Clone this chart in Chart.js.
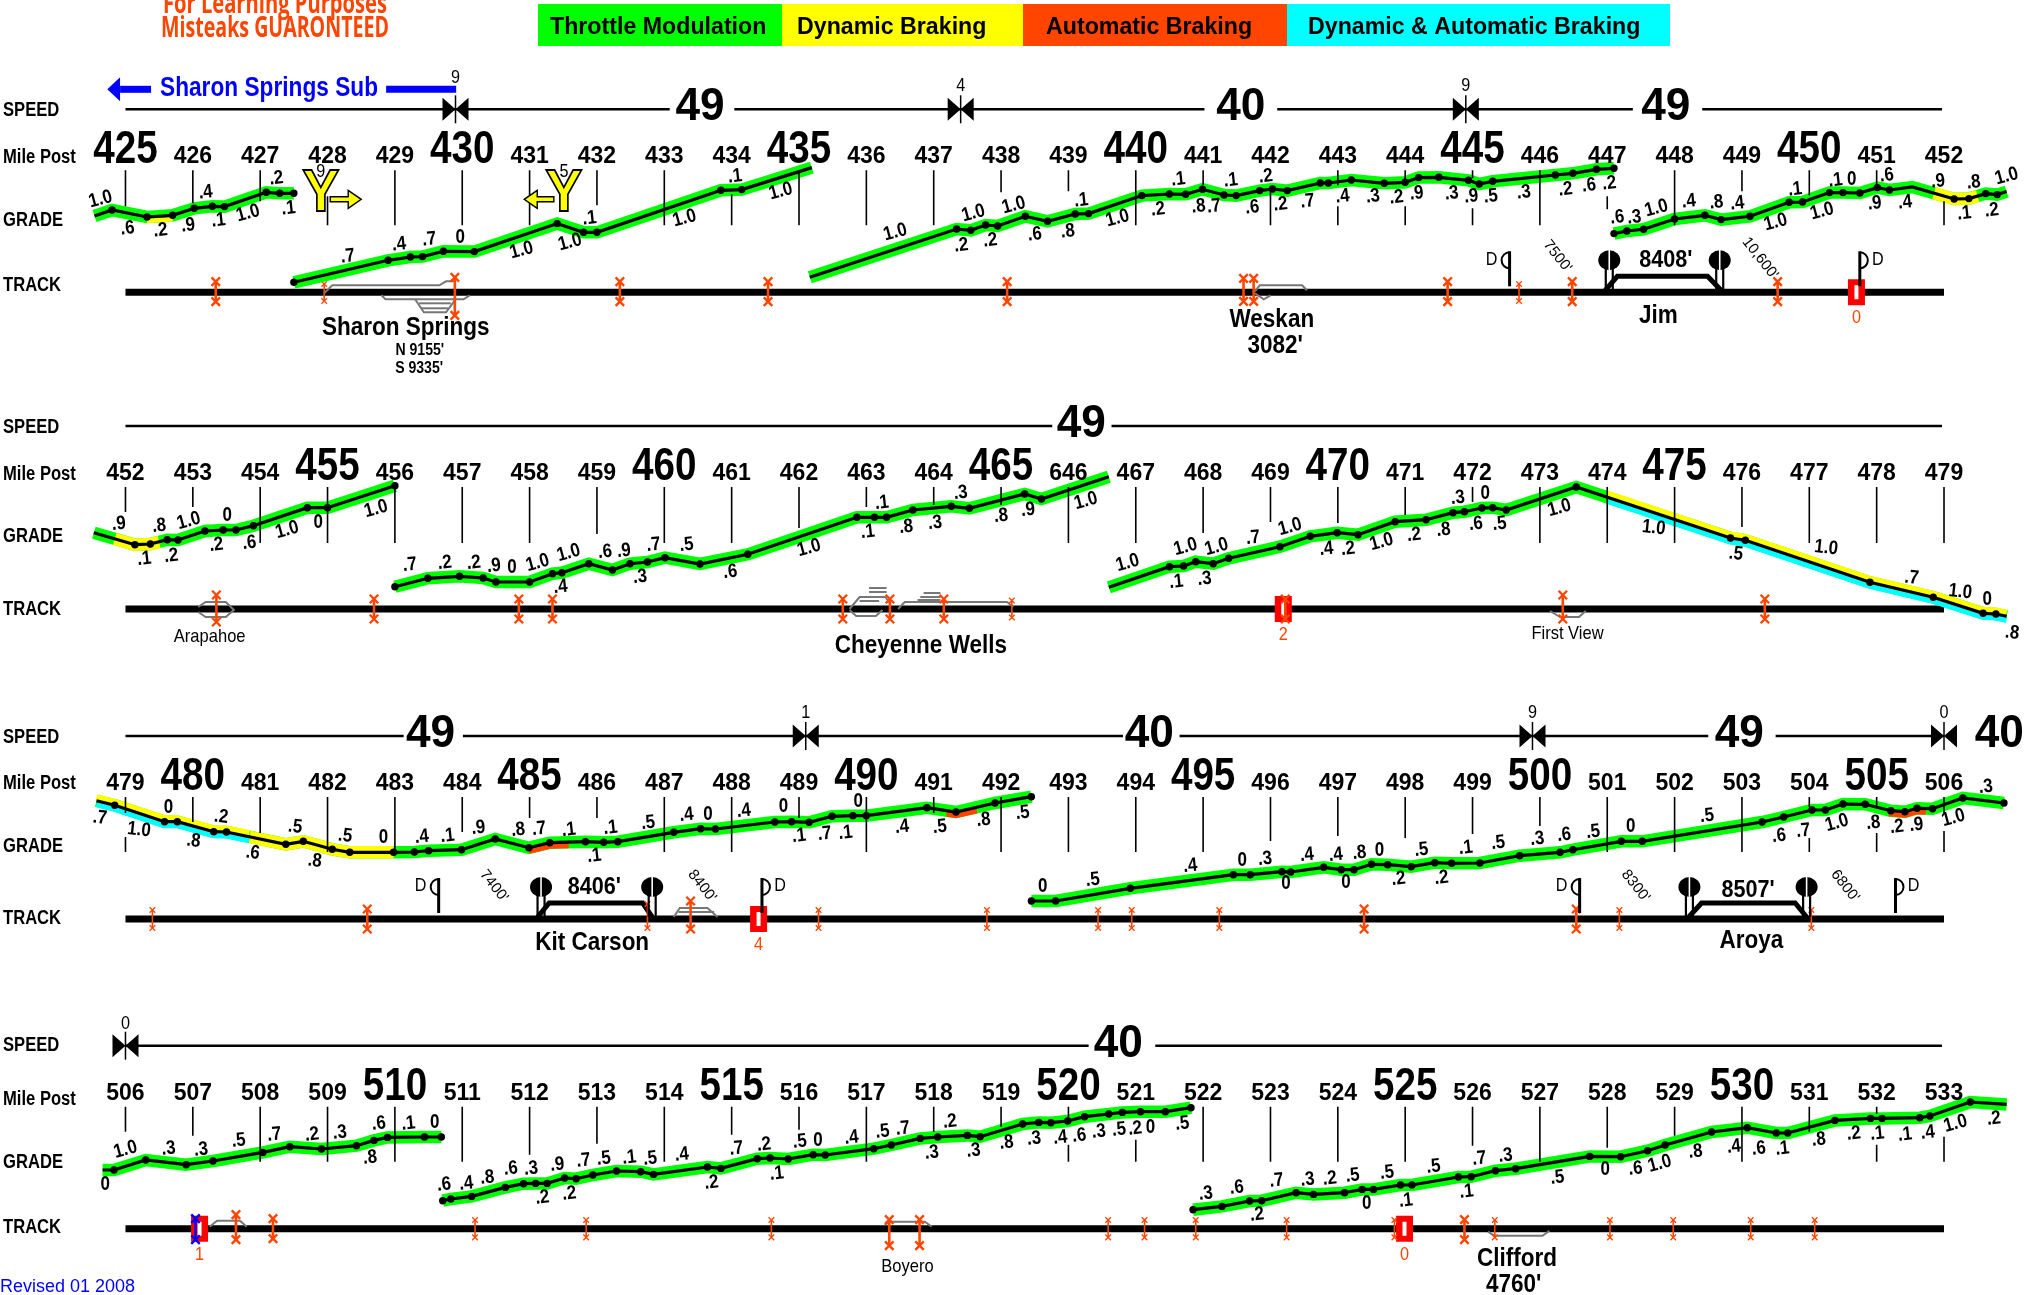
<!DOCTYPE html>
<html><head><meta charset="utf-8">
<style>html,body{margin:0;padding:0;background:#fff}canvas{display:block}</style>
<script src="https://cdn.jsdelivr.net/npm/chart.js@4"></script></head>
<body><canvas id="c" width="2028" height="1295"></canvas>
<script>
// ---- DATA: x = mile post, y = profile height above the track line ----
const legendNames=["Throttle Modulation","Dynamic Braking","Automatic Braking","Dynamic & Automatic Braking"];
const legendColors=["#00ff00","#ffff00","#ff4500","#00ffff"];
const rowStartMile=[425,452,479,506];
const trackY=[292.3,609,919,1228.7];

const mileLabels0=["425","426","427","428","429","430","431","432","433","434","435","436","437","438","439","440","441","442","443","444","445","446","447","448","449","450","451","452"];
const mileLabels1=["452","453","454","455","456","457","458","459","460","461","462","463","464","465","646","467","468","469","470","471","472","473","474","475","476","477","478","479"];
const mileLabels2=["479","480","481","482","483","484","485","486","487","488","489","490","491","492","493","494","495","496","497","498","499","500","501","502","503","504","505","506"];
const mileLabels3=["506","507","508","509","510","511","512","513","514","515","516","517","518","519","520","521","522","523","524","525","526","527","528","529","530","531","532","533"];

const seg1aM=[424.54,424.80,425.32,425.70,426.02,426.29,426.47,427.09,427.29,427.50];
const seg1aH=[76.3,82.3,75.3,77,84,86,85.7,100,99,99];
const seg1bM=[427.50,428.90,429.23,429.41,429.72,430.18,431.41,431.80,432.00,433.84,434.15,435.19];
const seg1bH=[10,32,35.3,35.7,41,40.7,68.7,60,60,102,102.7,124.7];
const seg1cM=[435.16,437.34,437.55,437.77,437.95,438.36,438.69,439.10,439.30,440.09,440.50,440.74,440.99,441.31,441.49,441.84,442.03,442.25,442.74,442.86,443.20,443.69,444.00,444.20,444.50,444.94,445.10,445.30,446.23,446.49,446.84,447.10];
const seg1cH=[15,63.3,62,67.3,66.3,76,71,78.3,78.7,96.7,98.3,98,103,97.3,96.7,101.7,103.3,101.7,109.3,109.3,112.3,109,110,114.7,115,112,108.3,111,117.3,119,123,124];
const seg1dM=[447.10,447.29,447.54,448.00,448.45,448.69,449.12,449.70,449.90,450.30,450.50,450.75,451.01,451.19,451.53,452.15,452.37,452.62,452.79,452.93];
const seg1dH=[58.7,61.3,63,73.3,77,72.7,76,90,90.3,99.7,99.7,99.3,104.7,102.3,105.3,93.3,93.7,98.7,97.7,100.7];
const seg2aM=[451.53,452.14,452.37,452.62,452.78,453.18,453.45,453.64,453.90,454.70,455.00,456.00];
const seg2aH=[76.3,64.3,65,69.3,69,78,79,79,83.3,101.3,101.3,123.3];
const seg2bM=[456.00,456.49,456.96,457.31,457.50,458.00,458.34,458.48,458.88,459.23,459.49,459.75,460.01,460.53,461.24,462.86,463.12,463.30,463.69,464.26,464.53,465.35,465.60,466.60];
const seg2bH=[22.3,30.7,32.7,31,27,27,35.3,36.3,45.3,39,45.3,47,51.3,45,54.7,91.7,91.7,91.7,99,102.7,100.7,115,110,132.3];
const seg2cM=[466.60,467.50,467.71,467.89,468.15,468.38,469.14,469.59,469.99,470.30,470.85,471.31,471.71,471.88,472.14,472.30,472.50,473.54,475.83,476.05,477.90,478.84,479.58,479.77,479.93];
const seg2cH=[21.7,42.3,43,47.3,45.3,50.7,62.3,72.7,76.3,74.3,87.3,89.3,96.3,97.3,101,101.3,99,122,71,68.7,26.7,11.7,-4.3,-5,-7.3];
const seg3aM=[478.57,478.84,479.58,479.77,480.31,480.50,481.38,481.64,482.07,482.33,482.98,483.29,483.50,483.99,484.49,484.99,485.30,485.83,486.10,486.31,487.14,487.54,487.76,488.64,488.89,489.15,489.49,489.80,490.00,490.90,491.33,491.91,492.45];
const seg3aH=[118.3,113.7,97.3,97.3,87.3,87,74.7,77.7,69.7,66.7,66.7,67,68.3,69.3,80,71.3,76.3,77.3,76.7,77.3,86.7,90.3,90,97,97.3,96.7,102.7,103.3,103.3,111.3,107,116,122.3];
const seg3bM=[492.45,492.81,493.92,495.45,495.70,496.17,496.30,496.79,497.05,497.24,497.50,497.74,498.09,498.44,498.69,499.11,499.70,500.30,500.49,501.21,501.52,503.30,503.62,504.04,504.24,504.50,504.83,505.21,505.42,505.60,505.83,506.28,506.89];
const seg3bH=[18,18,30.7,44.3,44.3,47.3,47,51.7,49.3,49.3,54.7,54.3,52.3,56.3,55.7,56,63.3,66.7,69.3,77.7,77.7,97,102,109,109,115,114.7,108.3,107.3,110.7,110.3,121,116];
const seg4aM=[505.66,505.83,506.30,506.90,507.30,508.04,508.44,508.91,509.43,509.69,509.89,510.44,510.69];
const seg4aH=[58.7,58.7,68.7,64,67.7,76.3,82,79.7,83,88.3,91.3,91.7,91.7];
const seg4bM=[510.71,510.83,511.14,511.64,511.91,512.09,512.26,512.52,512.69,512.94,513.29,513.65,513.84,514.64,514.84,515.38,515.57,515.84,516.21,516.39,517.11,517.37,517.80,518.06,518.50,518.69,519.32,519.56,519.74,519.99,520.24,520.60,520.80,521.07,521.44,521.82];
const seg4bH=[28,29.7,32.3,41.3,45,45.3,45.3,50.7,50,53.7,57.7,57,54.3,61.7,60.3,70,70.7,69.7,74,73.7,80,83.7,90.3,91.7,93.3,92,104.7,106.3,106,107.7,112,114.7,116.3,117,117,121];
const seg4cM=[521.85,522.28,522.69,522.87,523.38,523.64,524.10,524.36,524.53,524.93,525.10,525.79,525.98,526.34,526.64,527.74,528.20,528.60,528.86,529.55,530.08,530.51,530.68,531.38,531.91,532.08,532.64,532.79,533.39,533.93];
const seg4cH=[19,22.3,27.7,28,36,34.3,36,39.3,39.3,43.7,43.7,51.7,52,58,60,72.3,72,78,83.7,96.7,101,95.7,95.7,108.3,110.3,110.3,111,112.7,126.7,124.3];
const undottedEnds=[424.54,435.19,435.16,451.53,452.93,466.60,478.57,479.93,505.66,533.93];

// braking bands: miles and heights of the coloured stretches
const yellowBand1M=[451.85,452.15,452.37,452.50], yellowBand1H=[99,93.3,93.7,96];
const yellowBand2M=[451.84,452.14,452.37,452.50], yellowBand2H=[70,64.3,65,67];
const smallYellowM=[425.32,425.70], smallYellowH=[75.3,77];
const descentM=[474,475.83,476.05,477.90,478.84,479.58,479.77,479.93], descentH=[111.8,71,68.7,26.7,11.7,-4.3,-5,-7.3];
const descent3M=[478.57,478.84,479.58,479.77,480.31,480.50,480.84], descent3H=[118.3,113.7,97.3,97.3,87.3,87,82.2];
const yellow3M=[480.84,481.38,481.64,482.07,482.33,482.98], yellow3H=[82.2,74.7,77.7,69.7,66.7,66.7];
const orangeAM=[484.99,485.30,485.58], orangeAH=[71.3,76.3,76.8];
const orangeBM=[491.19,491.33,491.64], orangeBH=[108.3,107,111.5];
const orangeCM=[505.18,505.42,505.60,505.73], orangeCH=[109,107.3,110.7,110.5];

const ticks0=[[425,122,86],[426,122,89],[427,122,91],[428,96,67],[429,122,67],[430,122,67],[431,122,67],[432,122,87],[433,122,67],[434,98,67],[435,122,67],[436,122,67],[437,122,67],[438,122,100],[439,122,101],[440,122,67],[441,122,107],[442,104,67],[443,122,107],[443,86,67],[444,122,112],[444,86,67],[445,122,114],[445,84,67],[446,122,67],[447,96,83],[448,122,67],[449,122,101],[450,122,97],[451,122,106],[452,91,67]];
const ticks1=[[452,122,97],[453,122,102],[454,122,66],[455,122,66],[456,122,66],[457,122,66],[458,122,66],[459,122,75],[460,122,66],[461,122,66],[462,122,81],[463,122,102],[464,122,104],[465,122,104],[466,122,66],[467,122,66],[468,122,76],[469,122,87],[470,122,86],[471,122,94],[472,122,107],[473,122,66],[474,122,66],[475,122,66],[476,122,82],[477,122,66],[478,122,66],[479,122,66]];
const ticks2=[[479,122,106],[479,82,67],[480,122,97],[481,122,86],[482,122,67],[483,122,67],[484,122,87],[485,122,101],[486,122,101],[487,122,67],[488,122,67],[489,122,101],[490,122,67],[491,122,106],[492,122,67],[493,122,67],[494,122,67],[495,122,67],[496,122,78],[497,122,83],[498,122,81],[499,122,85],[500,122,93],[501,122,67],[502,122,67],[503,122,67],[504,122,112],[504,81,67],[505,122,112],[505,86,67],[506,122,106],[506,88,67]];
const ticks3=[[506,122,97],[507,122,93],[508,122,67],[509,122,67],[510,122,67],[511,122,67],[512,122,74],[513,122,85],[514,122,67],[515,122,94],[516,122,99],[517,122,67],[518,122,97],[519,122,102],[520,122,110],[520,84,67],[521,89,67],[522,122,67],[523,122,67],[524,122,67],[525,122,67],[526,122,83],[527,122,67],[528,122,81],[529,122,93],[530,122,67],[531,122,97],[532,122,115],[532,84,67],[533,92,67]];

const speedRuns0=[[425,433.08],[434.04,441.02],[442.10,447.38],[448.41,451.97]];
const speedRuns1=[[452,465.76],[466.64,478.97]];
const speedRuns2=[[479,483.13],[484.01,493.81],[494.65,502.50],[503.50,506]];
const speedRuns3=[[506,520.30],[521.29,532.97]];
const speedLabels=[[0,"49",433.53],[0,"40",441.56],[0,"49",447.87],[1,"49",466.19],[2,"49",483.53],[2,"40",494.20],[2,"49",502.96],[2,"40",506.82],[3,"40",520.74]];
const speedChanges=[[0,429.90,"9",214],[0,437.40,"4",206],[0,444.90,"9",206],[2,489.10,"1",206],[2,499.89,"9",206],[2,506,"0",206],[3,506,"0",205]];

const gradeLabels0=[["1.0",424.63,93],[".6",425.03,64],[".2",425.52,62],[".9",425.93,67],[".4",426.19,100],[".1",426.38,72],["1.0",426.82,79],[".2",427.24,114],[".1",427.42,84],[".7",428.30,36],[".4",429.06,48],[".7",429.51,53],["0",429.97,55],["1.0",430.88,42],["1.0",431.60,50],[".1",431.89,74],["1.0",433.30,74],[".1",434.05,116],["1.0",434.73,101],["1.0",436.43,60],[".2",437.41,47],["1.0",437.59,79],[".2",437.84,52],["1.0",438.19,87],[".6",438.50,58],[".8",438.99,61],[".1",439.19,92],["1.0",439.73,74],[".2",440.33,83],[".1",440.63,113],[".8",440.93,86],[".7",441.16,86],[".1",441.41,112],[".6",441.73,85],[".2",441.93,116],[".2",442.15,88],[".7",442.55,91],[".4",443.07,96],[".3",443.52,96],[".2",443.87,95],[".9",444.17,99],[".3",444.69,99],[".9",444.98,96],[".5",445.27,96],[".3",445.76,100],[".2",446.38,103],[".6",446.73,107],[".2",447.03,109],[".6",447.15,75],[".3",447.40,75],["1.0",447.73,84],[".4",448.21,91],[".8",448.62,90],[".4",448.93,89],["1.0",449.50,70],["1.0",450.19,81],[".1",449.79,103],[".1",450.39,112],["0",450.63,113],[".9",450.97,89],[".6",451.15,117],[".4",451.42,90],[".9",451.91,111],[".8",452.44,110],[".1",452.30,79],[".2",452.71,82],["1.0",452.93,116]];
const gradeLabels1=[[".9",451.90,85],[".8",452.50,83],["1.0",452.94,88],["0",453.51,93],[".1",452.28,50],[".2",452.68,53],[".2",453.35,64],[".6",453.84,66],["1.0",454.40,79],["0",454.86,86],["1.0",455.72,100],[".7",456.22,44],[".2",456.74,46],[".2",457.17,46],[".9",457.47,43],["0",457.74,41],["1.0",458.12,46],["1.0",458.58,56],[".4",458.46,22],[".6",459.12,57],[".9",459.40,58],[".3",459.64,32],[".7",459.84,64],[".5",460.33,64],[".6",460.98,37],["1.0",462.15,61],[".1",463.02,77],[".1",463.23,106],[".8",463.59,82],[".3",464.02,86],[".3",464.40,116],[".8",465.00,93],[".9",465.40,99],["1.0",466.26,108],["1.0",466.88,46],["1.0",467.74,62],[".1",467.60,27],[".3",468.02,30],["1.0",468.20,62],[".7",468.74,71],["1.0",469.29,82],[".4",469.83,60],[".2",470.15,60],["1.0",470.65,67],[".2",471.13,74],[".8",471.57,79],[".3",471.78,111],["0",472.19,115],[".6",472.05,85],[".5",472.40,85],["1.0",473.29,101],["1.0",474.69,81],[".5",475.91,55],["1.0",477.25,61],[".7",478.52,31],["1.0",479.24,17],["0",479.64,9],[".8",480.01,-24]];
const gradeLabels2=[[".7",478.62,101],["1.0",479.20,89],["0",479.64,111],[".8",480.01,78],[".2",480.42,102],[".6",480.89,66],[".5",481.52,92],[".8",481.81,58],[".5",482.26,83],["0",482.83,81],[".4",483.40,82],[".1",483.78,83],[".9",484.24,91],[".8",484.83,89],[".7",485.14,90],[".1",485.58,89],[".1",485.96,63],[".1",486.20,91],[".5",486.76,96],[".4",487.33,104],["0",487.65,104],[".4",488.18,108],["0",488.77,112],[".1",489.00,83],[".7",489.38,85],[".1",489.69,86],["0",489.88,117],[".4",490.53,92],[".5",491.09,92],[".8",491.74,99],[".5",492.32,106],["0",492.62,32],[".5",493.36,39],[".4",494.81,53],["0",495.58,58],[".3",495.92,60],["0",496.23,35],[".4",496.54,64],[".4",496.97,64],[".8",497.32,66],["0",497.12,36],["0",497.62,68],[".2",497.90,40],[".5",498.24,69],[".2",498.54,41],[".1",498.90,71],[".5",499.38,76],[".3",499.96,80],[".6",500.36,84],[".5",500.79,87],["0",501.35,92],[".5",502.48,103],[".6",503.55,83],[".7",503.91,88],["1.0",504.41,96],[".8",504.95,96],[".2",505.30,92],[".9",505.59,94],["1.0",506.14,101],[".3",506.62,132]];
const gradeLabels3=[["0",505.70,44],["1.0",506.00,79],[".3",506.64,80],[".3",507.12,79],[".5",507.68,88],[".7",508.21,94],[".2",508.77,94],[".3",509.18,96],[".8",509.63,71],[".6",509.76,105],[".1",510.20,105],["0",510.59,106],[".6",510.73,44],[".4",511.06,45],[".8",511.37,51],[".6",511.72,60],[".3",512.02,60],[".2",512.19,31],[".2",512.59,35],[".9",512.41,64],[".7",512.80,68],[".5",513.10,70],[".1",513.48,71],[".5",513.79,70],[".4",514.26,74],[".2",514.70,46],[".7",515.07,80],[".2",515.48,84],[".1",515.67,55],[".5",516.01,87],["0",516.28,88],[".4",516.78,91],[".5",517.24,97],[".7",517.54,100],[".3",517.97,76],[".2",518.24,107],[".3",518.59,78],[".8",519.08,86],[".3",519.49,90],[".4",519.88,91],[".6",520.16,93],[".3",520.45,97],[".5",520.75,99],[".2",520.99,100],["0",521.22,101],[".5",521.69,105],[".3",522.04,35],[".6",522.50,41],[".2",522.80,14],[".7",523.09,48],[".3",523.55,49],[".2",523.88,50],[".5",524.22,53],["0",524.43,25],[".5",524.73,56],[".1",525.01,28],[".5",525.42,62],[".1",525.91,37],[".7",526.10,70],[".3",526.49,73],[".5",527.26,51],["0",527.97,59],[".6",528.42,60],["1.0",528.78,65],[".8",529.31,77],[".4",529.88,82],[".6",530.25,80],[".1",530.60,80],[".8",531.14,89],[".2",531.66,95],[".1",532.01,95],[".1",532.42,94],[".4",532.76,96],["1.0",533.17,105],[".2",533.74,110]];

// crossings: [mile, upper X height, lower X height]
const bigCross0=[[426.34,10.7,-9.3],[429.89,15,-23],[432.34,10.7,-9.3],[434.54,10.7,-9.3],[438.09,10.7,-9.3],[441.60,14,-9],[441.75,14,-9],[444.63,10.7,-9.3],[446.48,10.7,-9.3],[449.53,10.7,-9.3]];
const smallCross0=[[427.95,8.3,-8.7],[445.69,8.3,-8.7]];
const bigCross1=[[453.35,14,-13],[455.69,10,-10],[457.84,10,-10],[458.34,10,-10],[462.65,10,-10],[463.35,10,-10],[464.15,10,-10],[469.22,10,-10],[473.34,14,-10],[476.34,10,-10]];
const smallCross1=[[465.16,8.5,-8.5]];
const bigCross2=[[482.59,10,-10],[487.39,18,-10],[497.39,10,-10],[500.54,10,-10]];
const smallCross2=[[479.40,9,-9],[486.75,15,-9],[489.29,9,-9],[491.79,9,-9],[493.44,9,-9],[493.94,9,-9],[495.24,9,-9],[501.18,9,-9],[504.03,9,-9]];
const bigCross3=[[507.64,14,-11],[508.19,10,-10],[517.34,9,-17],[517.79,9,-17],[525.88,9,-11]];
const smallCross3=[[511.19,8.7,-8.7],[512.84,8.7,-8.7],[515.59,8.7,-8.7],[520.59,8.7,-8.7],[521.13,8.7,-8.7],[521.89,8.7,-8.7],[523.24,8.7,-8.7],[524.84,8.7,-8.7],[526.33,8.7,-8.7],[528.04,8.7,-8.7],[528.98,8.7,-8.7],[530.13,8.7,-8.7],[531.08,8.7,-8.7]];
const blueCross3=[[507.04,10,-11]];

const redSignals=[[0,450.70,"0"],[1,469.19,"2"],[2,488.40,"4"],[3,507.10,"1"],[3,524.99,"0"]];
const holdSignals=[[0,447.03],[0,448.67],[2,485.17],[2,486.82],[2,502.22],[2,503.96]];
const distantSignals=[[0,445.55,-1],[0,450.75,1],[2,483.65,-1],[2,488.45,1],[2,500.59,-1],[2,505.28,1]];

const greySidings=[
 [0,[[427.95,-1],[428.07,7],[429.66,7],[429.76,11],[429.89,11]]],
 [0,[[428.8,-3],[428.86,-7],[430.02,-7],[430.11,-3]]],
 [0,[[429.3,-7],[429.43,-20],[429.76,-20],[429.89,-8]]],
 [0,[[429.36,-11],[429.83,-11]]],[0,[[429.39,-16],[429.79,-16]]],
 [0,[[441.77,1],[441.84,7],[442.47,7],[442.54,2]]],
 [0,[[441.77,-1],[441.9,-7],[442,-3]]],
 [1,[[453.08,2],[453.19,7],[453.49,7],[453.61,-1],[453.49,-8],[453.19,-8],[453.08,-3]]],
 [1,[[462.75,0],[462.90,12],[463.28,12],[463.35,6]]],
 [1,[[463.04,21],[463.30,21]]],[1,[[463.04,17],[463.30,17]]],[1,[[462.90,8],[463.19,8]]],
 [1,[[462.75,-1],[462.85,-7],[463.14,-7],[463.24,-1]]],
 [1,[[463.47,0],[463.57,7],[465.09,7],[465.18,2]]],
 [1,[[463.76,9],[464.10,9]]],[1,[[463.80,12],[464.10,12]]],[1,[[463.85,16],[464.10,16]]],
 [1,[[473.15,-2],[473.30,-8],[473.58,-8],[473.68,-2]]],
 [2,[[487.14,2],[487.23,11],[487.64,11],[487.79,2]]],[2,[[487.21,7],[487.74,7]]],
 [3,[[507.25,2],[507.36,8],[507.70,8],[507.80,2]]],
 [3,[[517.27,4],[517.37,7],[517.87,7],[517.97,2]]],
 [3,[[526.23,-3],[526.32,-7],[527.04,-7],[527.14,-2]]]
];
const blackSidings=[
 [0,[[446.97,2],[447.15,16],[448.49,16],[448.69,2]]],
 [2,[[485.12,2],[485.29,16],[486.68,16],[486.82,2]]],
 [2,[[502.21,2],[502.40,16],[503.79,16],[503.96,2]]]
];
const sidingLengths=[[0,"8408'",447.87,32],[2,"8406'",485.96,32],[2,"8507'",503.09,29]];
const rotatedLengths=[[0,"7500'",446.26,36],[0,"10,600'",449.27,34],[2,"7400'",484.47,33],[2,"8400'",487.56,33],[2,"8300'",501.42,33],[2,"6800'",504.53,33]];
const stationsBold=[[0,"Sharon Springs",429.16,-36],[0,"Weskan",442.02,-28],[0,"3082'",442.07,-54],[0,"Jim",447.76,-24],[1,"Cheyenne Wells",463.81,-37],[2,"Kit Carson",485.93,-24],[2,"Aroya",503.14,-22],[3,"Clifford",526.66,-30],[3,"4760'",526.61,-56]];
const stationsSmallBold=[[0,"N 9155'",429.37,-58],[0,"S 9335'",429.36,-76]];
const stationsPlain=[[1,"Arapahoe",453.25,-28],[1,"First View",473.41,-25],[3,"Boyero",517.61,-38]];
const rowTitles=["SPEED","Mile Post","GRADE","TRACK"];
const rowTitleHeights=[[182,135,72,7],[182,135,73,0],[182,136,73,1],[183,129,66,1]];

// ---- BUILD ----
const FONT='"Liberation Sans"';
const rows=[0,1,2,3];
const scales={};
rows.forEach(r=>{
  scales['x'+r]={type:'linear',display:false,min:rowStartMile[r]-1.863,max:rowStartMile[r]+28.247};
  scales['y'+r]={type:'linear',display:false,min:trackY[r]-1295,max:trackY[r]};
});
const datasets=[];
function pts(M,H,off){return M.map((m,i)=>({x:m,y:H[i]+(off||0)}));}
function addLine(r,data,color,width,order,extra){
  datasets.push(Object.assign({xAxisID:'x'+r,yAxisID:'y'+r,data,showLine:true,spanGaps:false,borderColor:color,backgroundColor:color,
    borderWidth:width,pointRadius:0,pointHoverRadius:0,order,borderJoinStyle:'miter',borderCapStyle:'butt',tension:0,clip:false},extra||{}));
}
function withBreaks(list,f){const d=[];list.forEach(it=>{f(it).forEach(p=>d.push(p));d.push({x:null,y:null});});return d;}

// track and speed lines
rows.forEach(r=>{
  addLine(r,[{x:rowStartMile[r],y:0},{x:rowStartMile[r]+27,y:0}],'#000',7,60);
});
[speedRuns0,speedRuns1,speedRuns2,speedRuns3].forEach((runs,r)=>{
  addLine(r,withBreaks(runs,a=>[{x:a[0],y:183},{x:a[1],y:183}]),'#000',2.4,60);
});
// sub-division bars
addLine(0,[{x:424.92,y:203},{x:425.38,y:203}],'#0000ff',7,60);
addLine(0,[{x:428.87,y:203},{x:429.91,y:203}],'#0000ff',7,60);
// mile ticks
[ticks0,ticks1,ticks2,ticks3].forEach((t,r)=>{
  addLine(r,withBreaks(t,a=>[{x:a[0],y:a[1]},{x:a[0],y:a[2]}]),'#000',1.6,20);
});
// sidings
greySidings.forEach(s=>addLine(s[0],s[1].map(p=>({x:p[0],y:p[1]})),'#777',2,58));
blackSidings.forEach(s=>addLine(s[0],s[1].map(p=>({x:p[0],y:p[1]})),'#000',5,58));
// grade profile
const profile=[[0,seg1aM,seg1aH],[0,seg1bM,seg1bH],[0,seg1cM,seg1cH],[0,seg1dM,seg1dH],[1,seg2aM,seg2aH],[1,seg2bM,seg2bH],[1,seg2cM,seg2cH],[2,seg3aM,seg3aH],[2,seg3bM,seg3bH],[3,seg4aM,seg4aH],[3,seg4bM,seg4bH],[3,seg4cM,seg4cH]];
profile.forEach(p=>{
  addLine(p[0],pts(p[1],p[2]),'#00ff00',12.5,40);
  addLine(p[0],pts(p[1],p[2]),'#000',3.2,10,{
    pointRadius:c=>undottedEnds.includes(c.raw&&c.raw.x)?0:3.7,
    pointBackgroundColor:'#000',pointBorderColor:'#000',pointBorderWidth:0});
});
// braking bands
addLine(0,pts(smallYellowM,smallYellowH,-4),'#ffff00',4.5,30);
addLine(0,pts(yellowBand1M,yellowBand1H),'#ffff00',12.5,30);
addLine(1,pts(yellowBand2M,yellowBand2H),'#ffff00',12.5,30);
addLine(1,pts(descentM,descentH,3.4),'#ffff00',6.2,30);
addLine(1,pts(descentM,descentH,-3.4),'#00ffff',6.2,30);
addLine(2,pts(descent3M,descent3H,3.4),'#ffff00',6.2,30);
addLine(2,pts(descent3M,descent3H,-3.4),'#00ffff',6.2,30);
addLine(2,pts(yellow3M,yellow3H),'#ffff00',12.5,30);
addLine(2,pts(orangeAM,orangeAH,-3.4),'#ff4500',5.5,30);
addLine(2,pts(orangeBM,orangeBH,-3.4),'#ff4500',5.5,30);
addLine(2,pts(orangeCM,orangeCH,-3.4),'#ff4500',5.5,30);
// red absolute signals (under the crossings)
redSignals.forEach(s=>{
  addLine(s[0],[{x:s[1],y:13},{x:s[1],y:-13}],'#ff0000',17,56);
  addLine(s[0],[{x:s[1],y:7},{x:s[1],y:-7}],'#ffffff',4,55);
});
// crossings
function addCross(r,list,color,rad,lw,bw){
  if(!list.length)return;
  addLine(r,withBreaks(list,a=>[{x:a[0],y:a[1]},{x:a[0],y:a[2]}]),color,lw,50,{
    pointStyle:'crossRot',pointRadius:rad,pointBorderColor:color,pointBorderWidth:bw,pointBackgroundColor:color});
}
addCross(0,bigCross0,'#ff4500',6,2.6,2.4);addCross(0,smallCross0,'#ff4500',4,1.6,1.3);
addCross(1,bigCross1,'#ff4500',6,2.6,2.4);addCross(1,smallCross1,'#ff4500',4,1.6,1.3);
addCross(2,bigCross2,'#ff4500',6,2.6,2.4);addCross(2,smallCross2,'#ff4500',4,1.6,1.3);
addCross(3,bigCross3,'#ff4500',6,2.6,2.4);addCross(3,smallCross3,'#ff4500',4,1.6,1.3);
addCross(3,blueCross3,'#0000ff',6,2.4,2.4);

function T(ctx,s,x,y,o){
  o=o||{};ctx.save();ctx.translate(x,y);if(o.rot)ctx.rotate(o.rot*Math.PI/180);
  if(o.sx)ctx.scale(o.sx,1);
  ctx.font=o.font;ctx.fillStyle=o.color||'#000';ctx.textAlign=o.align||'center';ctx.textBaseline=o.base||'middle';
  if(o.stroke){ctx.lineWidth=o.lw||1.5;ctx.strokeStyle=o.stroke;ctx.lineJoin='miter';ctx.fillText(s,0,0);ctx.strokeText(s,0,0);}
  else ctx.fillText(s,0,0);
  ctx.restore();
}
const deco={id:'deco',
 beforeDatasetsDraw(ch){
  const c=ch.ctx;
  const edges=[538,782,1023,1287,1670],tx=[550,797,1046,1308];
  legendNames.forEach((n,i)=>{c.fillStyle=legendColors[i];c.fillRect(edges[i],4,edges[i+1]-edges[i],42);
    T(c,n,tx[i],28,{font:'bold 23.2px '+FONT,align:'left'});});
 },
 afterDatasetsDraw(ch){
  const c=ch.ctx,S=ch.scales;
  const X=(r,m)=>S['x'+r].getPixelForValue(m),Y=(r,h)=>S['y'+r].getPixelForValue(h);
  // header
  T(c,"For Learning Purposes",275,5,{font:'bold 28px "Open Sans"',color:'#ff4500',sx:.72});
  T(c,"Misteaks GUARONTEED",275,29,{font:'bold 28px "Open Sans"',color:'#ff4500',sx:.70});
  T(c,"Sharon Springs Sub",269,88,{font:'bold 28px '+FONT,color:'#0000ff',sx:.81});
  T(c,"Revised 01 2008",0,1287,{font:'18px '+FONT,color:'#0000ff',align:'left'});
  // blue arrow head
  c.fillStyle='#0000ff';c.beginPath();const ax=X(0,424.73),ab=X(0,424.92),ay=Y(0,203);
  c.moveTo(ax,ay);c.lineTo(ab,ay-12);c.lineTo(ab,ay+12);c.closePath();c.fill();
  rows.forEach(r=>{
    rowTitles.forEach((t,i)=>T(c,t,3,Y(r,rowTitleHeights[r][i]),{font:'bold 20px '+FONT,align:'left',sx:.83}));
    const ml=[mileLabels0,mileLabels1,mileLabels2,mileLabels3][r];
    ml.forEach((t,i)=>{
      const big=(rowStartMile[r]+i)%5===0;
      T(c,t,X(r,rowStartMile[r]+i),Y(r,129),big?{font:'bold 46px '+FONT,base:'alphabetic',sx:.84}:{font:'bold 23px '+FONT,base:'alphabetic'});
    });
    [gradeLabels0,gradeLabels1,gradeLabels2,gradeLabels3][r].forEach(g=>{
      const desc=g[1]>=474&&g[1]<=483;
      const rot=g[0]==='0'?0:desc?6:(g[0]==='1.0'?-15:-6);
      T(c,g[0],X(r,g[1]),Y(r,g[2]),{font:'bold 19.5px '+FONT,rot,sx:.87});
    });
  });
  // speed numbers and change markers
  speedLabels.forEach(s=>T(c,s[1],X(s[0],s[2]),Y(s[0],185),{font:'bold 47px '+FONT,sx:.94}));
  speedChanges.forEach(s=>{
    const px=X(s[0],s[1]),py=Y(s[0],183);c.fillStyle='#000';
    [-1,1].forEach(d=>{c.beginPath();c.moveTo(px+d*13,py-11.5);c.lineTo(px+d*13,py+11.5);c.lineTo(px,py);c.closePath();c.fill();});
    c.strokeStyle='#000';c.lineWidth=1.5;c.beginPath();c.moveTo(px,py-14);c.lineTo(px,py+14);c.stroke();
    T(c,s[2],px,Y(s[0],s[3]),{font:'18px '+FONT,sx:.9});
  });
  // yellow restricting signs
  [[427.90,1,428.04,428.50,"9"],[431.51,-1,431.36,430.92,"5"]].forEach(y=>{
    const px=X(0,y[0]),py=Y(0,98);
    T(c,'Y',px,py,{font:'bold 60px '+FONT,color:'#ffff00',stroke:'#000',lw:1.8,sx:.93});
    T(c,y[4],X(0,y[0]),Y(0,120),{font:'18px '+FONT,sx:.9});
    const a=X(0,y[2]),b=X(0,y[3]),ya=Y(0,93),d=y[1],h=b-d*13;
    c.beginPath();c.moveTo(a,ya-2.5);c.lineTo(h,ya-2.5);c.lineTo(h,ya-9);c.lineTo(b,ya);c.lineTo(h,ya+9);c.lineTo(h,ya+2.5);c.lineTo(a,ya+2.5);c.closePath();
    c.fillStyle='#ffff00';c.fill();c.strokeStyle='#000';c.lineWidth=1.4;c.stroke();
  });
  // hold signals
  holdSignals.forEach(s=>{
    const px=X(s[0],s[1]),base=Y(s[0],2),cy=Y(s[0],32);
    c.fillStyle='#000';c.beginPath();c.ellipse(px,cy,11,10,0,0,Math.PI*2);c.fill();
    c.strokeStyle='#000';c.lineWidth=2.2;c.beginPath();c.moveTo(px-3.5,cy);c.lineTo(px-3.5,base);c.moveTo(px+3.5,cy);c.lineTo(px+3.5,base);c.stroke();
    c.strokeStyle='#fff';c.lineWidth=1.6;c.beginPath();c.moveTo(px,cy-11);c.lineTo(px,cy+12);c.stroke();
  });
  // distant signals
  distantSignals.forEach(s=>{
    const px=X(s[0],s[1]),d=s[2];
    c.strokeStyle='#000';c.lineWidth=3;c.beginPath();c.moveTo(px,Y(s[0],41));c.lineTo(px,Y(s[0],6));c.stroke();
    c.lineWidth=2;c.beginPath();
    if(d<0)c.arc(px,Y(s[0],32),8,Math.PI/2,Math.PI*1.5);else c.arc(px,Y(s[0],32),8,-Math.PI/2,Math.PI/2);
    c.stroke();
    T(c,'D',px+d*18,Y(s[0],33),{font:'19px '+FONT,sx:.85});
  });
  redSignals.forEach(s=>T(c,s[2],X(s[0],s[1]),Y(s[0],-26),{font:'18px '+FONT,color:'#ff4500',sx:.9}));
  sidingLengths.forEach(s=>T(c,s[1],X(s[0],s[2]),Y(s[0],s[3]),{font:'bold 24px '+FONT,sx:.9}));
  rotatedLengths.forEach(s=>T(c,s[1],X(s[0],s[2]),Y(s[0],s[3]),{font:'15px '+FONT,rot:52}));
  stationsBold.forEach(s=>T(c,s[1],X(s[0],s[2]),Y(s[0],s[3]),{font:'bold 25px '+FONT,sx:.9}));
  stationsSmallBold.forEach(s=>T(c,s[1],X(s[0],s[2]),Y(s[0],s[3]),{font:'bold 16px '+FONT,sx:.88}));
  stationsPlain.forEach(s=>T(c,s[1],X(s[0],s[2]),Y(s[0],s[3]),{font:'19px '+FONT,sx:.87}));
 }
};
new Chart(document.getElementById('c'),{
  type:'scatter',
  data:{datasets},
  options:{responsive:false,devicePixelRatio:1,animation:false,events:[],layout:{autoPadding:false,padding:0},scales,
    plugins:{legend:{display:false},tooltip:{enabled:false},title:{display:false}}},
  plugins:[deco]
});
</script></body></html>
